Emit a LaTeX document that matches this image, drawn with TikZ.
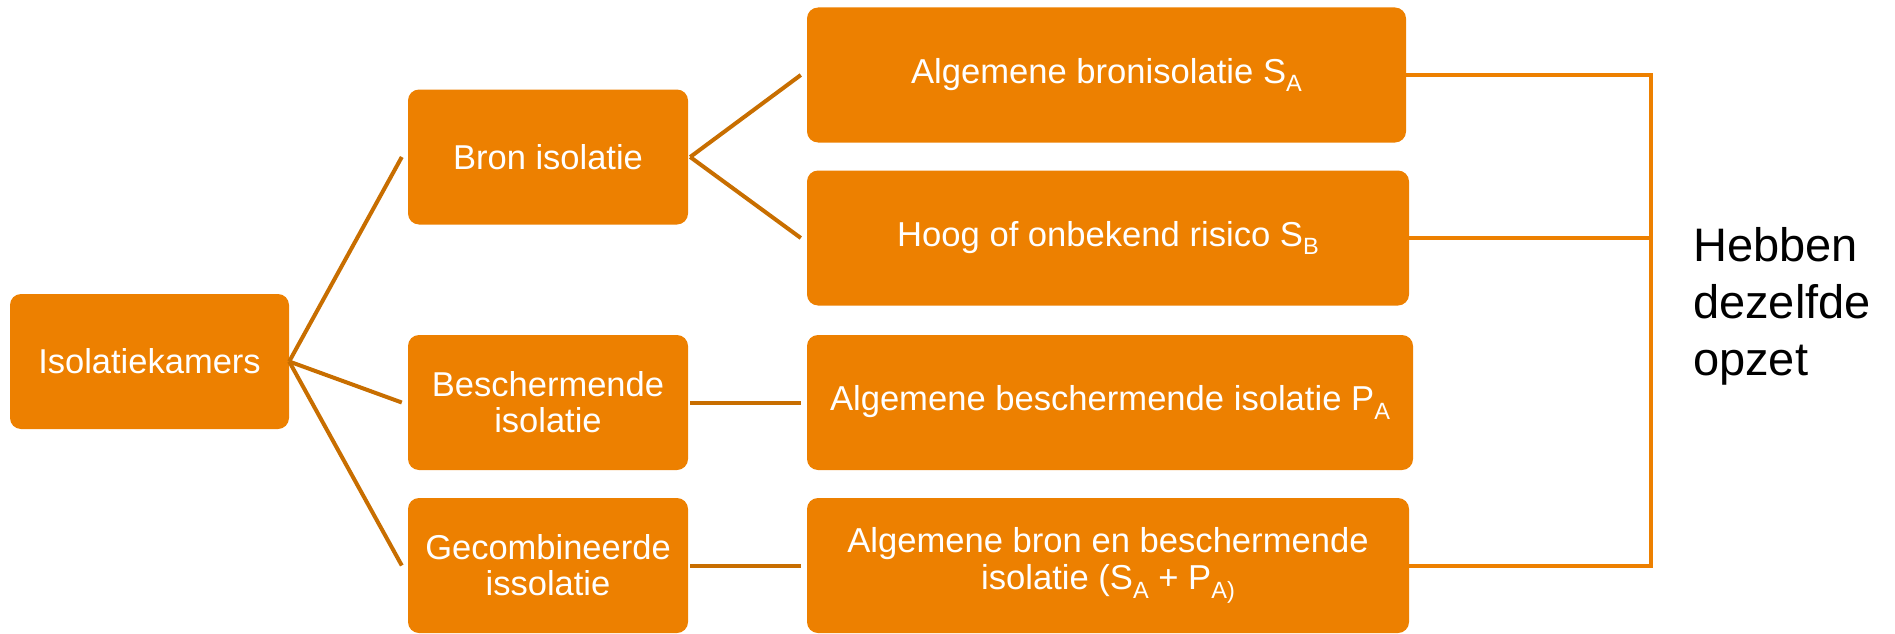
\documentclass[tikz,border=0pt]{standalone}
\usepackage{fontspec}
\setmainfont{Liberation Sans}
\definecolor{boxorange}{RGB}{237,128,0}
\definecolor{lineorange}{RGB}{200,110,0}
\tikzset{
  box/.style={fill=boxorange, rounded corners=11pt, text=white, align=center, inner sep=0pt},
  lbox/.style={box, minimum width=280pt, minimum height=135pt, font=\fontsize{34.5}{36}\selectfont},
  rbox/.style={box, minimum height=135pt, font=\fontsize{34.6}{37}\selectfont},
  conn/.style={draw=lineorange, line width=4pt},
  bracket/.style={draw=boxorange, line width=4pt},
}
\newcommand\lsub[1]{\raisebox{-0.25em}{\scalebox{0.68}{#1}}}
\begin{document}
\begin{tikzpicture}[x=1pt,y=-1pt]
\useasboundingbox (0,0) rectangle (1895,634);
% left
\node[lbox, minimum width=279pt] (iso) at (149.5,361.5) {Isolatiekamers};
% middle
\node[lbox] (bron) at (548,157) {Bron isolatie};
\node[lbox] (besch) at (548,402.5) {Beschermende\\isolatie};
\node[lbox] (gecomb) at (548,565.5) {Gecombineerde\\issolatie};
% right
\node[rbox, minimum width=599pt] (a1) at (1106.5,75) {Algemene bronisolatie S\lsub{A}};
\node[rbox, minimum width=602pt] (a2) at (1108,238) {Hoog of onbekend risico S\lsub{B}};
\node[rbox, minimum width=606pt] (a3) at (1110,402.5) {Algemene beschermende isolatie P\lsub{A}};
\node[rbox, minimum width=602pt] (a4) at (1108,565.5) {Algemene bron en beschermende\\isolatie (S\lsub{A} + P\lsub{A)}};
% connectors
\draw[conn] (iso.east) -- ([xshift=-6pt]bron.west);
\draw[conn] (iso.east) -- ([xshift=-6pt]besch.west);
\draw[conn] (iso.east) -- ([xshift=-6pt]gecomb.west);
\draw[conn] ([xshift=2pt]bron.east) -- ([xshift=-6pt]a1.west);
\draw[conn] ([xshift=2pt]bron.east) -- ([xshift=-6pt]a2.west);
\draw[conn] ([xshift=2pt]besch.east) -- ([xshift=-6pt]a3.west);
\draw[conn] ([xshift=2pt]gecomb.east) -- ([xshift=-6pt]a4.west);
% bracket
\coordinate (bx) at (1651,0);
\draw[bracket] (a1.east) -- (a1.east -| bx) -- (a4.east -| bx) -- (a4.east);
\draw[bracket] (a2.east) -- (a2.east -| bx);
% note
\node[anchor=west, align=left, inner sep=0pt, font=\fontsize{47}{57}\selectfont] (note) at (1693,306) {Hebben\\dezelfde\\opzet};
\end{tikzpicture}
\end{document}
